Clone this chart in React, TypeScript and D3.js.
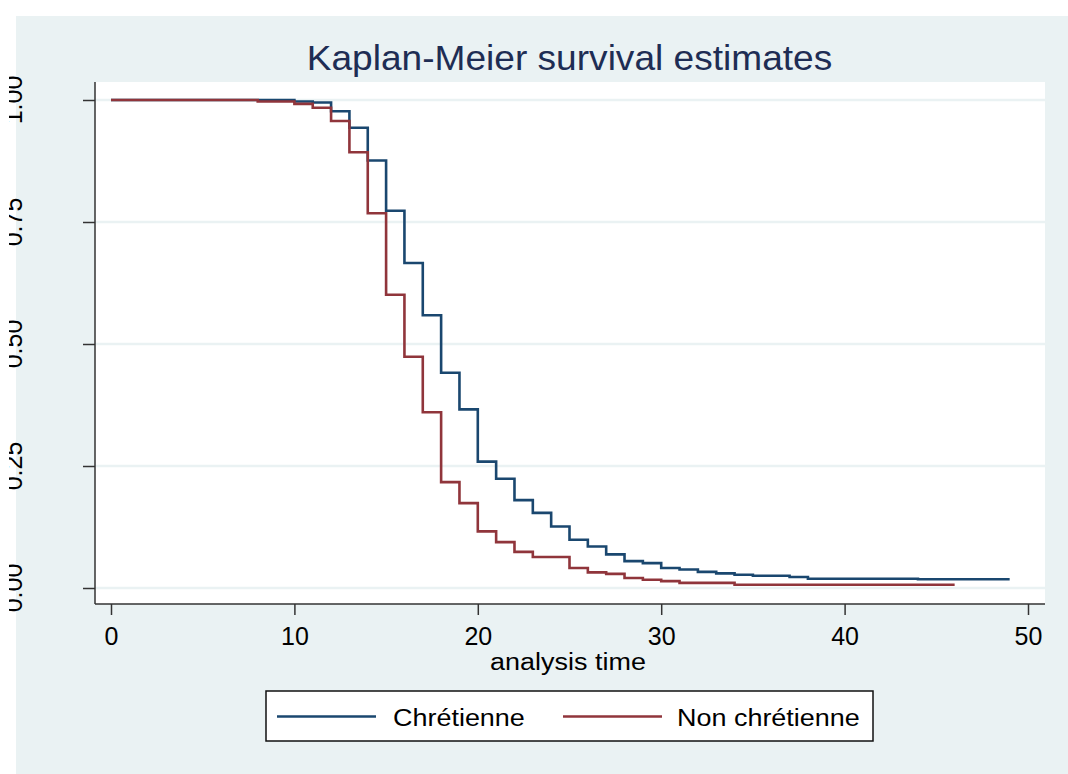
import { useEffect, useRef } from "react"
import * as d3 from "d3"

// Kaplan-Meier step points
const chretTimes = [0, 10, 11, 12, 13, 14, 15, 16, 17, 18, 19, 20, 21, 22, 23, 24, 25, 26, 27, 28, 29, 30, 31, 32, 33, 34, 35, 37, 38, 44, 49]
const chretSurv = [1.0, 0.997, 0.995, 0.977, 0.943, 0.876, 0.773, 0.666, 0.559, 0.441, 0.366, 0.259, 0.224, 0.18, 0.154, 0.126, 0.099, 0.085, 0.069, 0.055, 0.051, 0.041, 0.038, 0.033, 0.03, 0.027, 0.025, 0.0225, 0.019, 0.018, 0.018]

const nonTimes = [0, 8, 10, 11, 12, 13, 14, 15, 16, 17, 18, 19, 20, 21, 22, 23, 25, 26, 27, 28, 29, 30, 31, 34, 46]
const nonSurv = [1.0, 0.997, 0.992, 0.984, 0.957, 0.893, 0.768, 0.601, 0.474, 0.36, 0.217, 0.174, 0.116, 0.094, 0.074, 0.0635, 0.041, 0.032, 0.029, 0.0205, 0.017, 0.014, 0.0105, 0.0067, 0.0067]

const xTicks = [0, 10, 20, 30, 40, 50]
const yTicks = [0, 0.25, 0.5, 0.75, 1]
const seriesNames = ["Chrétienne", "Non chrétienne"]

const W = 1068
const H = 774
const FONT = "'Liberation Sans', Arial, Helvetica, sans-serif"

const KMChart = () => {
  const svgRef = useRef<SVGSVGElement>(null)

  useEffect(() => {
    if (!svgRef.current) return
    const svg = d3.select(svgRef.current)
    svg.selectAll("*").remove()

    const blue = "#1a476f"
    const red = "#90353b"
    const bg = "#eaf2f3"

    // plot region
    const plot = { left: 95, right: 1045, top: 82, bottom: 604 }

    const x = d3.scaleLinear().domain([0, 50]).range([111, 1028])
    const y = d3.scaleLinear().domain([0, 1]).range([588, 100])

    // backgrounds
    svg.append("rect").attr("width", W).attr("height", H).attr("fill", "#ffffff")
    svg.append("rect").attr("x", 16).attr("y", 16).attr("width", W - 16).attr("height", H - 16).attr("fill", bg)
    svg.append("rect")
      .attr("x", plot.left)
      .attr("y", plot.top)
      .attr("width", plot.right - plot.left)
      .attr("height", plot.bottom - plot.top)
      .attr("fill", "#ffffff")

    // gridlines
    svg.append("g")
      .selectAll("line")
      .data(yTicks)
      .enter()
      .append("line")
      .attr("x1", plot.left)
      .attr("x2", plot.right)
      .attr("y1", (d) => y(d))
      .attr("y2", (d) => y(d))
      .attr("stroke", bg)
      .attr("stroke-width", 2.5)

    // title
    svg.append("text")
      .attr("transform", "translate(569.5,70) scale(1.06,1)")
      .attr("text-anchor", "middle")
      .attr("font-family", FONT)
      .attr("font-size", 35)
      .attr("fill", "#1e2d54")
      .text("Kaplan-Meier survival estimates")

    // y axis ticks
    const yAxis = svg.append("g")
      .attr("transform", `translate(${plot.left},0)`)
      .call(d3.axisLeft(y).tickValues(yTicks).tickSize(12).tickFormat(() => ""))
    yAxis.select(".domain").remove()
    yAxis.selectAll("line").attr("stroke", "#333").attr("stroke-width", 1.5)

    // y labels, rotated and cut at the left edge like the source image
    svg.append("clipPath").attr("id", "ylabclip")
      .append("rect").attr("x", 9).attr("y", 0).attr("width", 100).attr("height", H)
    svg.append("g")
      .attr("clip-path", "url(#ylabclip)")
      .selectAll("text")
      .data(yTicks)
      .enter()
      .append("text")
      .attr("transform", (d) => `translate(22,${y(d)}) rotate(-90)`)
      .attr("text-anchor", "middle")
      .attr("font-family", FONT)
      .attr("font-size", 25)
      .attr("fill", "#000")
      .text((d) => d3.format(".2f")(d))

    // x axis
    const xAxis = svg.append("g")
      .attr("transform", `translate(0,${plot.bottom})`)
      .call(d3.axisBottom(x).tickValues(xTicks).tickSize(11).tickPadding(12))
    xAxis.select(".domain").remove()
    xAxis.selectAll("line").attr("stroke", "#333").attr("stroke-width", 1.5)
    xAxis.selectAll("text")
      .attr("font-family", FONT)
      .attr("font-size", 25)
      .attr("fill", "#000")

    // axis lines
    svg.append("line")
      .attr("x1", plot.left).attr("x2", plot.left)
      .attr("y1", plot.top).attr("y2", plot.bottom)
      .attr("stroke", "#333").attr("stroke-width", 1.5)
    svg.append("line")
      .attr("x1", plot.left).attr("x2", plot.right)
      .attr("y1", plot.bottom).attr("y2", plot.bottom)
      .attr("stroke", "#333").attr("stroke-width", 1.5)

    svg.append("text")
      .attr("transform", "translate(568,670) scale(1.1,1)")
      .attr("text-anchor", "middle")
      .attr("font-family", FONT)
      .attr("font-size", 24.5)
      .attr("fill", "#000")
      .text("analysis time")

    // survival curves
    const line = d3
      .line<[number, number]>()
      .x((d) => x(d[0]))
      .y((d) => y(d[1]))
      .curve(d3.curveStepAfter)

    const chret = chretTimes.map((t, i) => [t, chretSurv[i]] as [number, number])
    const non = nonTimes.map((t, i) => [t, nonSurv[i]] as [number, number])

    svg.append("path")
      .datum(chret)
      .attr("fill", "none")
      .attr("stroke", blue)
      .attr("stroke-width", 2.6)
      .attr("d", line)

    svg.append("path")
      .datum(non)
      .attr("fill", "none")
      .attr("stroke", red)
      .attr("stroke-width", 2.6)
      .attr("d", line)

    // legend
    const lg = svg.append("g")
    lg.append("rect")
      .attr("x", 266)
      .attr("y", 691)
      .attr("width", 607)
      .attr("height", 50)
      .attr("fill", "#fff")
      .attr("stroke", "#111")
      .attr("stroke-width", 1.5)

    const items = [
      { name: seriesNames[0], color: blue, x0: 277, x1: 376, tx: 393 },
      { name: seriesNames[1], color: red, x0: 563, x1: 662, tx: 677 },
    ]
    items.forEach((it) => {
      lg.append("line")
        .attr("x1", it.x0).attr("x2", it.x1)
        .attr("y1", 716.5).attr("y2", 716.5)
        .attr("stroke", it.color)
        .attr("stroke-width", 2.6)
      lg.append("text")
        .attr("transform", `translate(${it.tx},725.5) scale(1.1,1)`)
        .attr("font-family", FONT)
        .attr("font-size", 24.5)
        .attr("fill", "#000")
        .text(it.name)
    })
  }, [])

  return (
    <svg
      ref={svgRef}
      width={W}
      height={H}
      style={{ position: "absolute", left: 0, top: 0, display: "block" }}
    ></svg>
  )
}

export default function App() {
  return <KMChart />
}
